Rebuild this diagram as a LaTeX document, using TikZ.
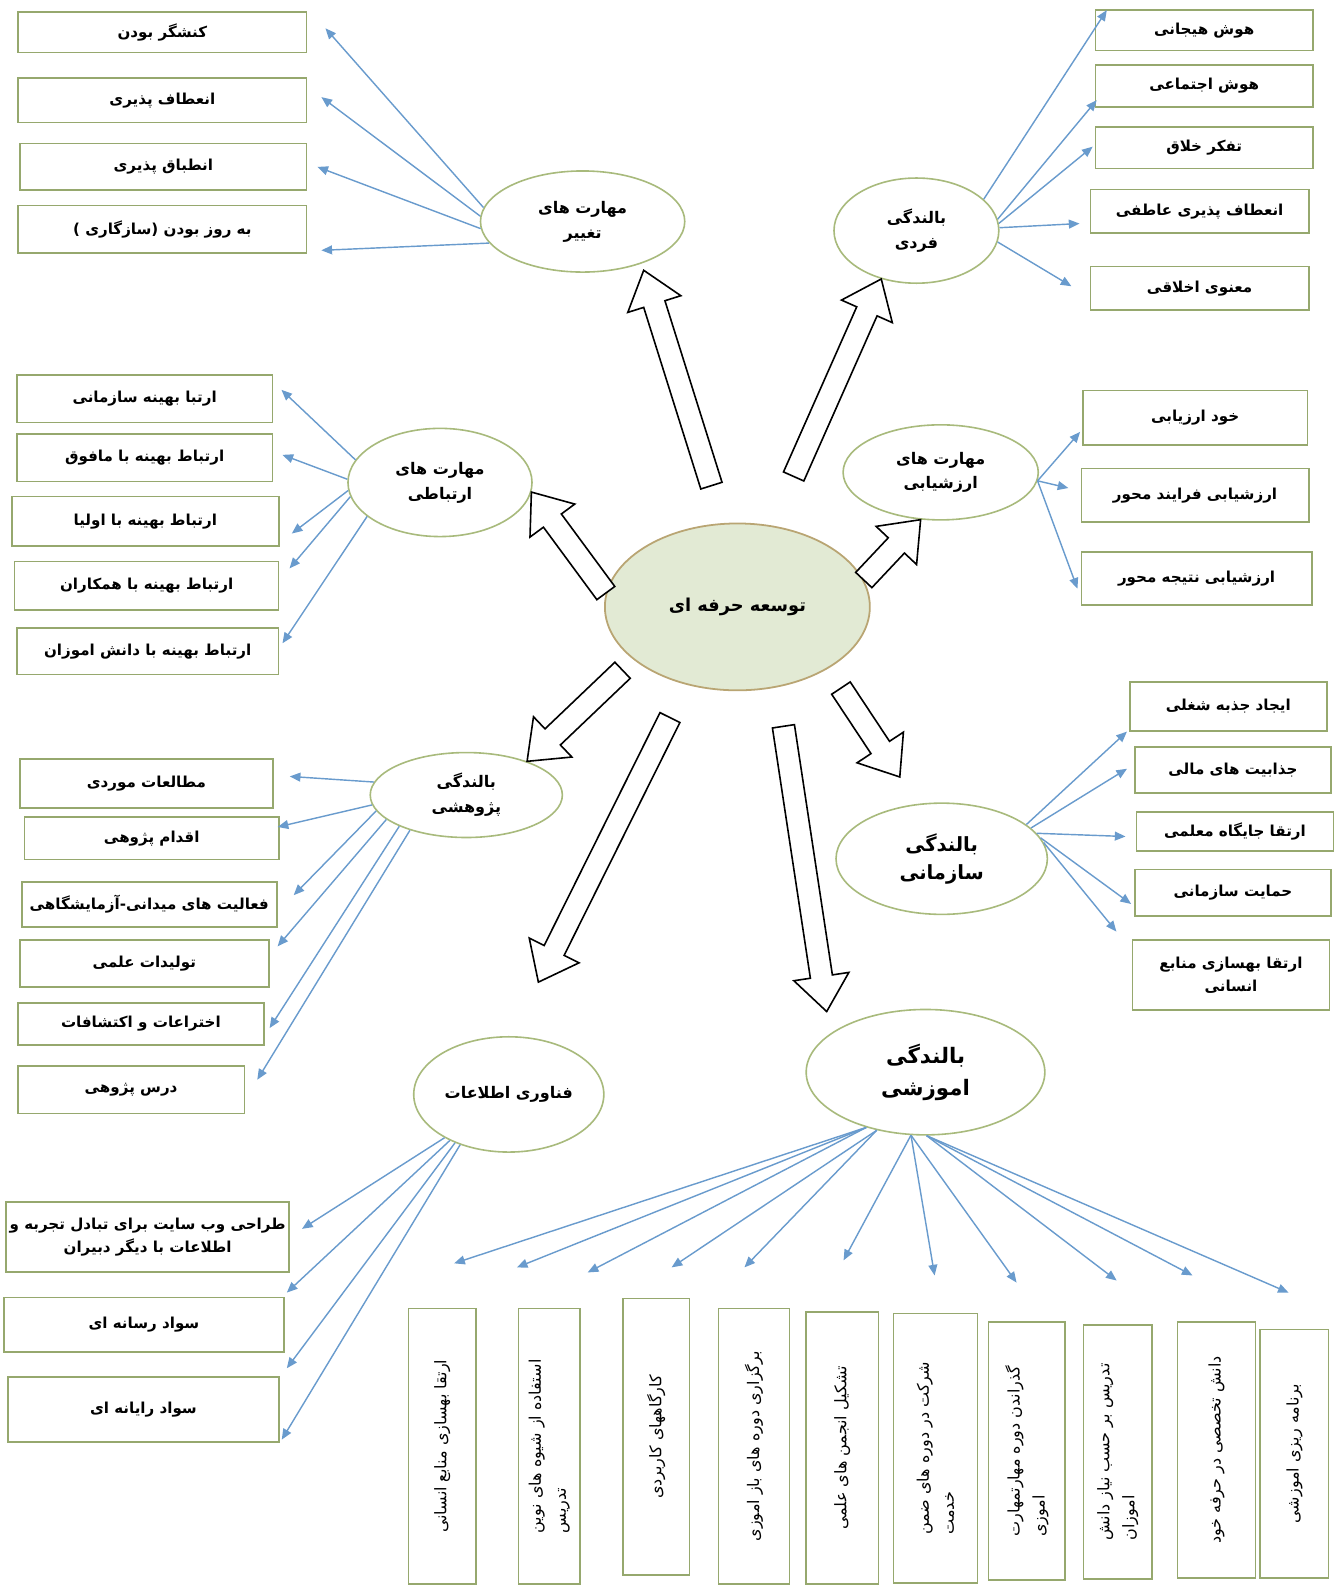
\documentclass[tikz,border=0pt]{standalone}
\usepackage{fontspec}
\newfontfamily\fa[Script=Arabic]{DejaVu Sans}
\TeXXeTstate=1
\usetikzlibrary{shapes.geometric, arrows.meta, calc}
\definecolor{boxgreen}{RGB}{150,168,110}
\definecolor{ellgreen}{RGB}{168,186,124}
\definecolor{linkblue}{RGB}{105,155,205}
\definecolor{corefill}{RGB}{226,234,212}
\definecolor{coreedge}{RGB}{185,165,115}
\newcommand\pers[1]{\beginR #1\endR}
\newcommand\bigarrow[2]{%
  \coordinate (ba1) at (#1);
  \coordinate (ba2) at (#2);
  \coordinate (bah) at ($(ba2)!0.7cm!(ba1)$);
  \draw[blockarrow] ($(ba1)!0.22cm!90:(ba2)$) -- ($(bah)!0.22cm!90:(ba2)$) -- ($(bah)!0.55cm!90:(ba2)$) -- (ba2)
    -- ($(bah)!0.55cm!-90:(ba2)$) -- ($(bah)!0.22cm!-90:(ba2)$) -- ($(ba1)!0.22cm!-90:(ba2)$) -- cycle;
}

\begin{document}
\begin{tikzpicture}[x=0.02cm, y=-0.02cm,
    core/.style={ellipse, draw=coreedge, line width=1pt, fill=corefill, minimum width=5.24cm, minimum height=3.3cm, inner sep=0pt, font=\fa\bfseries\fontsize{10}{12}\selectfont},
    topic/.style={ellipse, draw=ellgreen, line width=0.9pt, fill=white, inner sep=0pt, align=center, font=\fa\bfseries\fontsize{9}{14}\selectfont},
    leafbox/.style={draw=boxgreen, line width=0.9pt, fill=white, inner sep=2pt, align=center, font=\fa\bfseries\fontsize{8.5}{13}\selectfont},
    vleaf/.style={draw=boxgreen, line width=0.9pt, fill=white, inner sep=2pt, rotate=90, align=left, font=\fa\fontsize{9}{14}\selectfont},
    spoke/.style={draw=linkblue, line width=0.8pt, -{Triangle[length=6pt,width=5pt]}},
    blockarrow/.style={draw=black, line width=0.9pt, fill=white, line join=miter}]
\useasboundingbox (0,0) rectangle (1323,1568);

\node[core] (core) at (729,600) {\pers{توسعه حرفه ای}};

\node[topic, minimum width=4.04cm, minimum height=2cm] (taghyir) at (576,219) {\pers{مهارت های}\\\pers{تغییر}};
\node[topic, minimum width=3.26cm, minimum height=2.08cm] (fardi) at (906,228) {\pers{بالندگی}\\\pers{فردی}};
\node[topic, minimum width=3.64cm, minimum height=2.14cm] (ertebati) at (435,477) {\pers{مهارت های}\\\pers{ارتباطی}};
\node[topic, minimum width=3.86cm, minimum height=1.88cm] (arzesh) at (930,467) {\pers{مهارت های}\\\pers{ارزشیابی}};
\node[topic, minimum width=3.8cm, minimum height=1.68cm] (pazhohesh) at (461,786) {\pers{بالندگی}\\\pers{پژوهشی}};
\node[topic, minimum width=4.18cm, minimum height=2.2cm, font=\fa\bfseries\fontsize{11}{16}\selectfont] (sazmani) at (931,849) {\pers{بالندگی}\\\pers{سازمانی}};
\node[topic, minimum width=3.76cm, minimum height=2.28cm] (fanavari) at (503,1082) {\pers{فناوری اطلاعات}};
\node[topic, minimum width=4.72cm, minimum height=2.48cm, font=\fa\bfseries\fontsize{12}{18}\selectfont] (amoozeshi) at (915,1060) {\pers{بالندگی}\\\pers{اموزشی}};

\node[leafbox, minimum width=5.7cm, minimum height=0.8cm] (tg1) at (160.5,32) {\pers{کنشگر بودن}};
\node[leafbox, minimum width=5.7cm, minimum height=0.88cm] (tg2) at (160.5,99) {\pers{انعطاف پذیری}};
\node[leafbox, minimum width=5.66cm, minimum height=0.92cm] (tg3) at (161.5,165) {\pers{انطباق پذیری}};
\node[leafbox, minimum width=5.7cm, minimum height=0.94cm] (tg4) at (160.5,226.5) {\pers{به روز بودن (سازگاری )}};

\node[leafbox, minimum width=4.3cm, minimum height=0.8cm] (fd1) at (1190.5,30) {\pers{هوش هیجانی}};
\node[leafbox, minimum width=4.3cm, minimum height=0.84cm] (fd2) at (1190.5,85) {\pers{هوش اجتماعی}};
\node[leafbox, minimum width=4.3cm, minimum height=0.82cm] (fd3) at (1190.5,146) {\pers{تفکر خلاق}};
\node[leafbox, minimum width=4.32cm, minimum height=0.86cm] (fd4) at (1186,209) {\pers{انعطاف پذیری عاطفی}};
\node[leafbox, minimum width=4.32cm, minimum height=0.86cm] (fd5) at (1186,285) {\pers{معنوی اخلاقی}};

\node[leafbox, minimum width=5.06cm, minimum height=0.94cm] (er1) at (143,394.4) {\pers{ارتبا بهینه سازمانی}};
\node[leafbox, minimum width=5.06cm, minimum height=0.94cm] (er2) at (143,452.7) {\pers{ارتباط بهینه با مافوق}};
\node[leafbox, minimum width=5.28cm, minimum height=0.98cm] (er3) at (143.7,515.5) {\pers{ارتباط بهینه با اولیا}};
\node[leafbox, minimum width=5.22cm, minimum height=0.96cm] (er4) at (145,579) {\pers{ارتباط بهینه با همکاران}};
\node[leafbox, minimum width=5.18cm, minimum height=0.92cm] (er5) at (146,644) {\pers{ارتباط بهینه با  دانش اموزان}};

\node[leafbox, minimum width=4.44cm, minimum height=1.08cm] (az1) at (1181.6,413) {\pers{خود ارزیابی}};
\node[leafbox, minimum width=4.5cm, minimum height=1.06cm] (az2) at (1181.5,489.5) {\pers{ارزشیابی فرایند محور}};
\node[leafbox, minimum width=4.56cm, minimum height=1.04cm] (az3) at (1183,572) {\pers{ارزشیابی نتیجه محور}};

\node[leafbox, minimum width=5cm, minimum height=0.98cm] (pz1) at (144.7,774.6) {\pers{مطالعات موردی}};
\node[leafbox, minimum width=5.03cm, minimum height=0.84cm] (pz2) at (150,828.6) {\pers{اقدام پژوهی}};
\node[leafbox, minimum width=5.04cm, minimum height=0.89cm] (pz3) at (147.6,894) {\pers{فعالیت های میدانی-آزمایشگاهی}};
\node[leafbox, minimum width=4.92cm, minimum height=0.92cm] (pz4) at (142.7,952.6) {\pers{تولیدات علمی}};
\node[leafbox, minimum width=4.86cm, minimum height=0.84cm] (pz5) at (139.3,1012.4) {\pers{اختراعات و اکتشافات}};
\node[leafbox, minimum width=4.48cm, minimum height=0.94cm] (pz6) at (129.6,1077.5) {\pers{درس پژوهی}};

\node[leafbox, minimum width=3.9cm, minimum height=0.97cm] (sz1) at (1214.4,698.3) {\pers{ایجاد جذبه شغلی}};
\node[leafbox, minimum width=3.88cm, minimum height=0.91cm] (sz2) at (1219,761) {\pers{جذابیت های مالی}};
\node[leafbox, minimum width=3.9cm, minimum height=0.77cm] (sz3) at (1221,822) {\pers{ارتقا جایگاه معلمی}};
\node[leafbox, minimum width=3.88cm, minimum height=0.92cm] (sz4) at (1219,882.7) {\pers{حمایت سازمانی}};
\node[leafbox, minimum width=3.9cm, minimum height=1.38cm] (sz5) at (1217,964) {\pers{ارتقا بهسازی منابع}\\\pers{انسانی}};

\node[leafbox, minimum width=5.55cm, minimum height=1.38cm] (fn1) at (145.9,1222.9) {\pers{طراحی وب سایت برای تبادل تجربه و}\\\pers{اطلاعات با دیگر دبیران}};
\node[leafbox, minimum width=5.54cm, minimum height=1.08cm] (fn2) at (142.3,1309.7) {\pers{سواد رسانه ای}};
\node[leafbox, minimum width=5.36cm, minimum height=1.28cm] (fn3) at (141.8,1393.5) {\pers{سواد رایانه ای}};

\node[vleaf, minimum width=5.45cm, minimum height=1.34cm] (v1) at (437.2,1429.9) {\pers{ارتقا بهسازی منابع انسانی}};
\node[vleaf, minimum width=5.45cm, minimum height=1.22cm] (v2) at (543,1429.9) {\pers{استفاده از شیوه های نوین}\\\pers{تدریس}};
\node[vleaf, minimum width=5.47cm, minimum height=1.32cm] (v3) at (648.7,1420.6) {\pers{کارگاههای کاربردی}};
\node[vleaf, minimum width=5.45cm, minimum height=1.4cm] (v4) at (745.4,1429.9) {\pers{برگزاری دوره های باز اموزی}};
\node[vleaf, minimum width=5.38cm, minimum height=1.43cm] (v5) at (832.8,1431.5) {\pers{تشکیل انجمن های  علمی}};
\node[vleaf, minimum width=5.33cm, minimum height=1.66cm] (v6) at (924.9,1431.9) {\pers{شرکت در دوره های ضمن}\\\pers{خدمت}};
\node[vleaf, minimum width=5.1cm, minimum height=1.51cm] (v7) at (1015.2,1434.5) {\pers{گذراندن دوره مهارتمهارت}\\\pers{اموزی}};
\node[vleaf, minimum width=5.02cm, minimum height=1.35cm] (v8) at (1105,1435.5) {\pers{تدریس بر حسب نیاز دانش}\\\pers{اموزان}};
\node[vleaf, minimum width=5.06cm, minimum height=1.54cm] (v9) at (1202.6,1433.5) {\pers{دانش تخصصی در حرفه خود}};
\node[vleaf, minimum width=4.91cm, minimum height=1.35cm] (v10) at (1279.7,1437.3) {\pers{برنامه ریزی اموزشی}};

\bigarrow{$(core.99)!0.78cm!(taghyir.-39)$}{[shift={(7,5)}]taghyir.-39}
\bigarrow{$(core.67)!1.06cm!(fardi.234)$}{fardi.234}
\bigarrow{core.174}{ertebati.-6}
\bigarrow{core.12}{arzesh.247}
\bigarrow{$(core.207)!0.3cm!(pazhohesh.29)$}{pazhohesh.29}
\bigarrow{$(core.236)!0.72cm!(fanavari.75)$}{[shift={(14,-54)}]fanavari.75}
\bigarrow{$(core.-65)!0.78cm!(amoozeshi.148)$}{[shift={(-21,-12)}]amoozeshi.148}
\bigarrow{$(core.-34)!0.46cm!(sazmani.117)$}{[shift={(-14,-27)}]sazmani.117}

\foreach \b/\a/\dx/\dy in {tg1/172/18/-4, tg2/177/14/-3, tg3/184/10/0, tg4/193/14/21}
  \draw[spoke] (taghyir.\a) -- ([shift={(\dx,\dy)}]\b.east);
\foreach \b/\a/\dx/\dy in {fd1/25/12/-20, fd2/8/2/14, fd3/5/-2/-1, fd4/2/-10/12, fd5/-8/-18/-2}
  \draw[spoke] (fardi.\a) -- ([shift={(\dx,\dy)}]\b.west);
\foreach \b/\a/\dx/\dy in {er1/165/8/-9, er2/178/9/-3, er3/185/12/12, er4/189/10/-17, er5/205/3/-8}
  \draw[spoke] (ertebati.\a) -- ([shift={(\dx,\dy)}]\b.east);
\foreach \b/\dx/\dy in {az1/-2/14, az2/-12/-7, az3/-3/10}
  \draw[spoke] (arzesh.-5) -- ([shift={(\dx,\dy)}]\b.west);
\foreach \b/\a/\dx/\dy in {pz1/172/16/-7, pz2/186/-2/-11, pz3/190/16/-9, pz4/197/8/-17, pz5/205/5/4, pz6/212/12/-10}
  \draw[spoke] (pazhohesh.\a) -- ([shift={(\dx,\dy)}]\b.east);
\foreach \b/\a/\dx/\dy in {sz1/22/-2/25, sz2/19/-7/-1, sz3/15/-10/5, sz4/12/-3/11, sz5/9/-15/-43}
  \draw[spoke] (sazmani.\a) -- ([shift={(\dx,\dy)}]\b.west);
\foreach \b/\a/\dx/\dy in {fn1.east/214/12/-8, fn2.north east/218/2/-4, fn3.north east/222/7/-8, fn3.south east/226/2/-3}
  \draw[spoke] (fanavari.\a) -- ([shift={(\dx,\dy)}]\b);
\foreach \px/\py/\a [count=\i] in {449/1249/223, 511/1253/223, 581/1258/223, 664/1253/230, 736/1253/230, 834/1246/257, 924/1261/257, 1005/1268/257, 1104/1266/271, 1179/1261/271, 1274/1278/271}
  {\coordinate (amtip\i) at (\px,\py);
   \draw[spoke] (amoozeshi.\a) -- (amtip\i);}
\end{tikzpicture}
\end{document}
